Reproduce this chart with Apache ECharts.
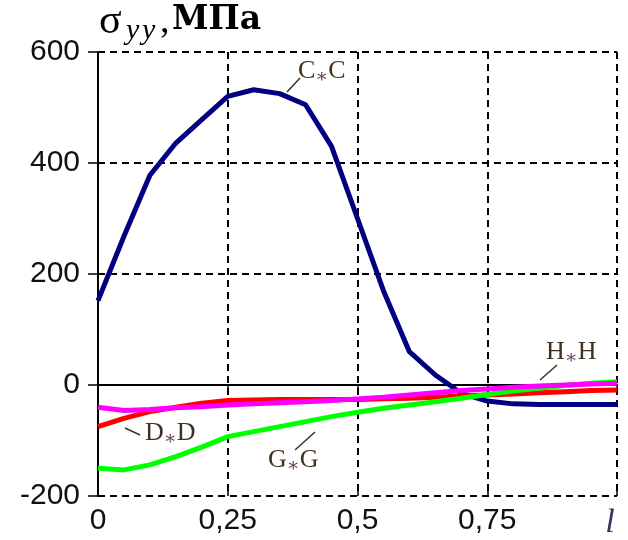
<!DOCTYPE html>
<html><head><meta charset="utf-8">
<script src="https://cdn.jsdelivr.net/npm/echarts@6/dist/echarts.min.js"></script>
<style>html,body{margin:0;padding:0;background:#fff}#c{width:628px;height:540px}</style>
</head><body><div id="c"></div>
<script>
const xValues = [0,0.05,0.1,0.15,0.2,0.25,0.3,0.35,0.4,0.45,0.5,0.55,0.6,0.65,0.7,0.75,0.8,0.85,0.9,0.95,1];
const seriesC = [152,268,378,436,478,520,532,525,505,430,300,170,60,18,-15,-29,-34,-35,-35,-35,-35];
const seriesD = [-75,-60,-48,-40,-33,-28,-27,-26,-26,-26,-26,-25,-24,-22,-20,-18,-16,-14,-12,-10,-9];
const seriesG = [-150,-153,-144,-129,-112,-93,-84,-75,-66,-57,-49,-42,-36,-30,-24,-17,-11,-6,-1,3,6];
const seriesH = [-40,-46,-44,-41,-39,-36,-34,-32,-30,-28,-25,-22,-18,-14,-10,-7,-4,-2,0,2,3];
const xTickLabels = ['0','0,25','0,5','0,75','l'];
const yTickLabels = ['-200','0','200','400','600'];
const seriesNames = ['C','D','G','H'];

const chart = echarts.init(document.getElementById('c'));
const pairs = arr => xValues.map((x,i)=>[x,arr[i]]);
const lineS = (name, data, color) => ({
  name, type:'line', data: pairs(data), xAxisIndex:0, yAxisIndex:0,
  showSymbol:false, symbol:'none', smooth:false,
  lineStyle:{color, width:5}, itemStyle:{color}, animation:false, silent:true
});
const serif = "'Liberation Serif', 'DejaVu Serif', serif";
const cyrSerif = "'DejaVu Serif', serif";
const lblColor = '#40301c';
const curveLabel = (letter, x, y) => ({
  type:'text', left:x, top:y,
  style:{
    text:'{a|'+letter+'}{s|∗}{a|'+letter+'}',
    rich:{
      a:{fontFamily:serif, fontSize:26, fill:lblColor, fontWeight:'normal'},
      s:{fontFamily:serif, fontSize:19, fill:'#6a3a50', padding:[12,0,0,0]}
    }
  }
});
const leader = (x1,y1,x2,y2) => ({type:'line', shape:{x1,y1,x2,y2}, style:{stroke:'#333', lineWidth:1.5}});

chart.setOption({
  animation:false,
  backgroundColor:'#fff',
  grid:{left:98, right:11, top:52, bottom:42, containLabel:false},
  xAxis:[
    {type:'value', min:0, max:1, interval:0.25, position:'bottom',
     axisLine:{show:true, onZero:true, lineStyle:{color:'#000', width:2}},
     axisTick:{show:true, inside:false, length:6, lineStyle:{color:'#000', width:1.5}},
     axisLabel:{show:false}, splitLine:{show:false}},
    {type:'value', min:0, max:1, interval:0.25, position:'bottom',
     axisLine:{show:false, onZero:false},
     axisTick:{show:true, inside:true, length:6, lineStyle:{color:'#000', width:1.5}},
     axisLabel:{show:true, margin:10, color:'#111', fontFamily:'Liberation Sans', fontSize:30,
       formatter:v=>{const i=Math.round(v/0.25); return i===4?'{l|'+xTickLabels[i]+'}':xTickLabels[i];},
       rich:{l:{fontFamily:serif, fontStyle:'italic', fontSize:34, color:'#3a3060', padding:[0,14,0,0]}}},
     splitLine:{show:true, lineStyle:{color:'#000', width:2, type:[7,5]}}}
  ],
  yAxis:{type:'value', min:-200, max:600, interval:200,
    axisLine:{show:true, onZero:false, lineStyle:{color:'#000', width:2}},
    axisTick:{show:true, inside:false, length:10, lineStyle:{color:'#000', width:1.5}},
    axisLabel:{show:true, margin:18, color:'#111', fontFamily:'Liberation Sans', fontSize:30,
      formatter:v=>yTickLabels[Math.round((v+200)/200)]},
    splitLine:{show:true, lineStyle:{color:'#000', width:2, type:[7,5]}}},
  series:[
    lineS(seriesNames[0], seriesC, '#000080'),
    lineS(seriesNames[1], seriesD, '#ff0000'),
    lineS(seriesNames[2], seriesG, '#00ff00'),
    lineS(seriesNames[3], seriesH, '#ff00ff')
  ],
  graphic:[
    {type:'text', left:99, top:1, style:{text:'σ', fontFamily:serif, fontSize:42, fill:'#000'}},
    {type:'text', left:126, top:16, style:{text:'y', fontFamily:serif, fontSize:30, fontStyle:'italic', fill:'#000'}},
    {type:'text', left:142, top:16, style:{text:'y', fontFamily:serif, fontSize:30, fontStyle:'italic', fill:'#000'}},
    {type:'text', left:160, top:3, style:{text:',', fontFamily:serif, fontSize:38, fill:'#000'}},
    {type:'text', left:172, top:4, style:{text:'МПа', fontFamily:cyrSerif, fontSize:33, fontWeight:'bold', fill:'#000'}},
    curveLabel('C', 298, 58),
    curveLabel('D', 145, 420),
    curveLabel('G', 268, 447),
    curveLabel('H', 546, 339),
    leader(287,92,300,78),
    leader(125,428,140,435),
    leader(295,450,315,432),
    leader(540,380,557,365)
  ]
});
</script></body></html>
